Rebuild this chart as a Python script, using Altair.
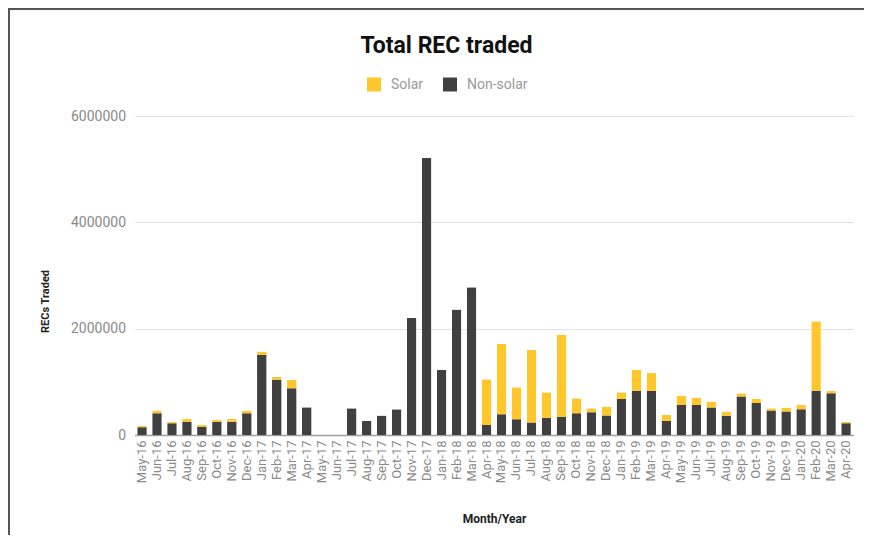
import altair as alt
import pandas as pd

months = ["May-16", "Jun-16", "Jul-16", "Aug-16", "Sep-16", "Oct-16", "Nov-16", "Dec-16",
          "Jan-17", "Feb-17", "Mar-17", "Apr-17", "May-17", "Jun-17", "Jul-17", "Aug-17",
          "Sep-17", "Oct-17", "Nov-17", "Dec-17", "Jan-18", "Feb-18", "Mar-18", "Apr-18",
          "May-18", "Jun-18", "Jul-18", "Aug-18", "Sep-18", "Oct-18", "Nov-18", "Dec-18",
          "Jan-19", "Feb-19", "Mar-19", "Apr-19", "May-19", "Jun-19", "Jul-19", "Aug-19",
          "Sep-19", "Oct-19", "Nov-19", "Dec-19", "Jan-20", "Feb-20", "Mar-20", "Apr-20"]

non_solar = [145000, 410000, 220000, 250000, 155000, 250000, 250000, 410000,
             1510000, 1040000, 880000, 520000, 0, 0, 505000, 270000,
             365000, 485000, 2200000, 5210000, 1225000, 2360000, 2780000, 190000,
             390000, 295000, 235000, 325000, 345000, 410000, 430000, 365000,
             675000, 830000, 830000, 270000, 565000, 565000, 515000, 360000,
             725000, 600000, 460000, 440000, 485000, 830000, 785000, 220000]

solar = [30000, 50000, 30000, 50000, 35000, 35000, 50000, 50000,
         60000, 50000, 160000, 0, 0, 0, 0, 0,
         0, 0, 0, 0, 0, 0, 0, 860000,
         1325000, 605000, 1370000, 480000, 1540000, 280000, 75000, 170000,
         130000, 395000, 335000, 105000, 175000, 140000, 115000, 80000,
         60000, 80000, 45000, 75000, 80000, 1310000, 45000, 30000]

series = ["Solar", "Non-solar"]
colors = ["#FFC72C", "#404040"]
chart_title = "Total REC traded"

rows = []
for m, ns, s in zip(months, non_solar, solar):
    rows.append({"month": m, "type": "Non-solar", "value": ns, "ord": 0})
    rows.append({"month": m, "type": "Solar", "value": s, "ord": 1})
df = pd.DataFrame(rows)

FONT = "Roboto"

bars = alt.Chart(df).mark_bar(cornerRadius=1).encode(
    x=alt.X("month:N", sort=months, title="Month/Year",
            scale=alt.Scale(paddingInner=0.36, paddingOuter=0.18),
            axis=alt.Axis(labelAngle=-90, labelColor="#8a8a8a", labelFontSize=13,
                          labelFont=FONT, labelPadding=5, ticks=False,
                          domainColor="#9e9e9e", domainWidth=1.5,
                          titleFont=FONT, titleFontSize=12, titleFontWeight="bold",
                          titleColor="#222222", titleY=83, titleBaseline="middle")),
    y=alt.Y("value:Q", stack="zero", title="RECs Traded",
            scale=alt.Scale(domain=[0, 6000000], nice=False),
            axis=alt.Axis(values=[0, 2000000, 4000000, 6000000], format="d",
                          labelColor="#8a8a8a", labelFontSize=14, labelFont=FONT,
                          labelPadding=9, ticks=False, domain=False,
                          gridColor="#e3e3e3", gridWidth=1.2,
                          titleFont=FONT, titleFontSize=11, titleFontWeight="bold",
                          titleColor="#222222", titleX=-89, titleY=185,
                          titleBaseline="middle")),
    color=alt.Color("type:N",
                    scale=alt.Scale(domain=series, range=colors),
                    legend=alt.Legend(title=None, orient="none", direction="horizontal",
                                      legendX=232.5, legendY=-38.5,
                                      symbolType="square", symbolSize=196,
                                      symbolStrokeWidth=0, labelOffset=10,
                                      labelColor="#9a9a9a", labelFontSize=14,
                                      labelFont=FONT, columnPadding=19)),
    order=alt.Order("ord:Q", sort="ascending"),
)

one = pd.DataFrame({"k": [0]})
title_text = alt.Chart(one).mark_text(
    font=FONT, fontSize=23, fontWeight="bold", color="#111111",
    align="center", baseline="middle").encode(
    x=alt.value(312), y=alt.value(-70), text=alt.value(chart_title))
top_edge = alt.Chart(one).mark_rule(color="#555555", strokeWidth=2).encode(
    x=alt.value(-126.5), x2=alt.value(740), y=alt.value(-107))
left_edge = alt.Chart(one).mark_rule(color="#555555", strokeWidth=2).encode(
    x=alt.value(-125.5), y=alt.value(-108), y2=alt.value(440))

chart = alt.layer(bars, title_text, top_edge, left_edge).properties(
    width=719,
    height=319,
    autosize=alt.AutoSizeParams(type="none"),
    padding={"left": 126.5, "top": 108, "right": 10, "bottom": 100},
    background="white",
).configure_view(stroke=None)

chart.save("out.html", embed_options={"renderer": "svg", "actions": False})
